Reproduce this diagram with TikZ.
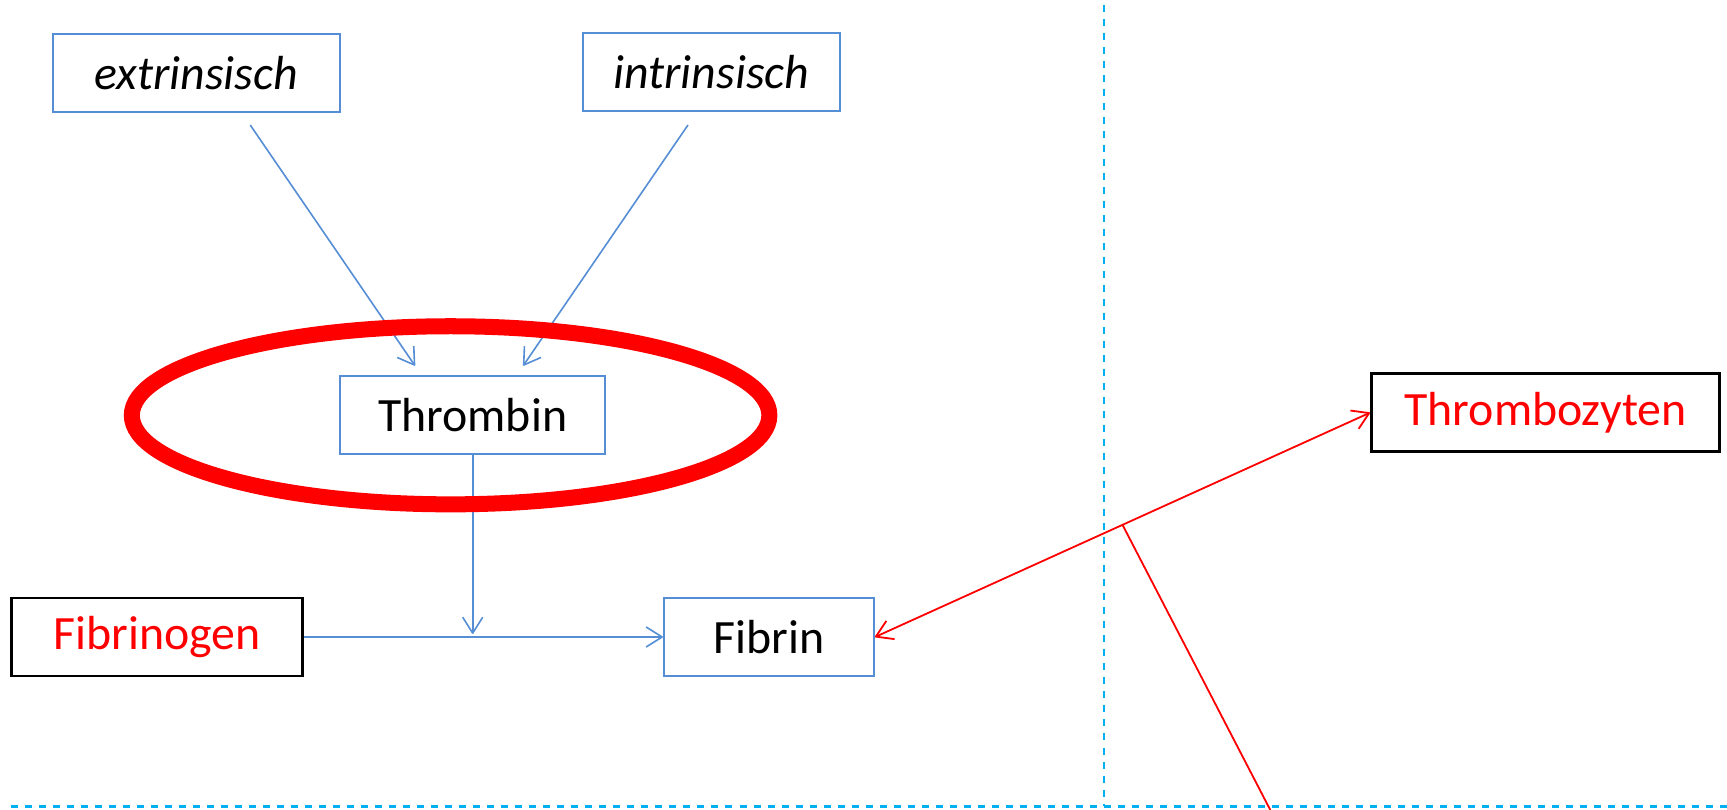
\documentclass[tikz,border=0pt]{standalone}
\usepackage{fontspec}
\setmainfont{Carlito}
\usetikzlibrary{arrows.meta}
\definecolor{boxblue}{RGB}{85,142,213}
\definecolor{guide}{RGB}{0,176,240}
\definecolor{alert}{RGB}{255,0,0}
\begin{document}
\begin{tikzpicture}[x=0.01cm,y=-0.01cm,
  label text/.style={font=\fontsize{13.6}{16}\selectfont, inner sep=0pt, minimum height=0.78cm},
  bluebox/.style={label text, draw=boxblue, line width=0.02cm},
  blackbox/.style={label text, draw=black, line width=0.028cm},
  barb/.tip={Straight Barb[length=0.16cm,width=0.2cm,line join=round]},
  flow/.style={draw=boxblue, line width=0.016cm, -barb},
  link/.style={draw=alert, line width=0.018cm},
  guideline/.style={draw=guide, line width=0.025cm, dash pattern=on 0.07cm off 0.07cm}]

\useasboundingbox (0,0) rectangle (1727,810);

% pathway boxes
\node[bluebox, minimum width=2.874cm] (ext) at (196.4,72.7) {\itshape extrinsisch};
\node[bluebox, minimum width=2.574cm] (int) at (711.3,71.7) {\itshape intrinsisch};
\node[bluebox, minimum width=2.646cm] (thr) at (472.7,415) {Thrombin};
\node[blackbox, minimum width=2.91cm, text=alert] (fgn) at (157,637) {Fibrinogen};
\node[bluebox, minimum width=2.10cm] (fib) at (769,637) {Fibrin};
\node[blackbox, minimum width=3.483cm, text=alert] (thz) at (1545.6,412.7) {Thrombozyten};

% section guides
\draw[guideline] (1103.8,5) -- (1103.8,806.5);
\draw[guideline] (11,806.5) -- (1727,806.5);

% cascade arrows
\coordinate (extA) at (250.2,125);
\coordinate (extB) at (415,365.7);
\coordinate (intA) at (688,125);
\coordinate (intB) at (523.2,365.7);
\coordinate (join) at (472.7,634);
\draw[flow] (extA) -- (extB);
\draw[flow] (intA) -- (intB);
\draw[flow] (thr.south) -- (join);
\draw[flow] (fgn.east) -- (fib.west);

% platelet interaction
\draw[link, barb-barb] (fib.east) -- coordinate[pos=0.5] (mid) (thz.west);
\coordinate (cut) at (1270.3,810);
\draw[link] (mid) -- (cut);

% highlight around thrombin
\draw[alert, line width=0.16cm] (450.6,415.3) ellipse [x radius=3.186cm, y radius=0.89cm];

\end{tikzpicture}
\end{document}
